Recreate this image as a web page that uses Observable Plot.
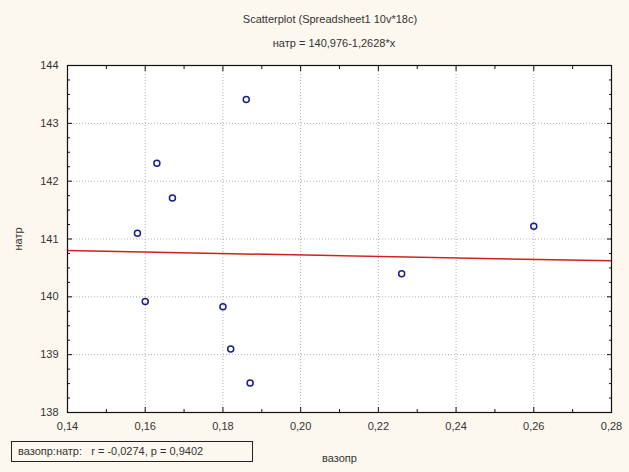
<!DOCTYPE html>
<html>
<head>
<meta charset="utf-8">
<script src="https://cdn.jsdelivr.net/npm/d3@7"></script>
<script src="https://cdn.jsdelivr.net/npm/@observablehq/plot@0.6"></script>
<style>
  html, body { margin: 0; padding: 0; background: #fdf8ef; }
  #wrap { position: relative; width: 629px; height: 472px; background: #fdf8ef; font-family: "Liberation Sans", Arial, sans-serif; color: #333; overflow: hidden; }
  .t { position: absolute; font-size: 11px; white-space: nowrap; }
  #title { left: 0; width: 660px; text-align: center; top: 13px; }
  #subtitle { left: 0; width: 668px; text-align: center; top: 37px; }
  #stats { left: 11px; top: 441px; width: 242px; height: 21px; border: 1px solid #222; box-sizing: border-box; line-height: 19px; padding-left: 6px; background: #fdf8ef; }
  #plot { position: absolute; left: 0; top: 0; }
</style>
</head>
<body>
<div id="wrap">
  <div id="plot"></div>
  <div class="t" id="title">Scatterplot (Spreadsheet1 10v*18c)</div>
  <div class="t" id="subtitle">натр = 140,976-1,2628*x</div>
  <div class="t" id="stats">вазопр:натр: &nbsp;&nbsp;r = -0,0274, p = 0,9402</div>
</div>
<script>
// Data
const vazopr = [0.158, 0.160, 0.163, 0.167, 0.186, 0.180, 0.182, 0.187, 0.226, 0.260];
const natr   = [141.10, 139.92, 142.31, 141.71, 143.41, 139.83, 139.10, 138.51, 140.40, 141.22];
// Regression: натр = 140,976 - 1,2628*x
const intercept = 140.976;
const slope = -1.2628;
const xTicks = [0.14, 0.16, 0.18, 0.20, 0.22, 0.24, 0.26, 0.28];
const xMinor = [0.15, 0.17, 0.19, 0.21, 0.23, 0.25, 0.27];
const yTicks = [138, 139, 140, 141, 142, 143, 144];
const yMinor = [138.25, 138.5, 138.75, 139.25, 139.5, 139.75, 140.25, 140.5, 140.75, 141.25, 141.5, 141.75, 142.25, 142.5, 142.75, 143.25, 143.5, 143.75];
const xDomain = [0.14, 0.28];
const yDomain = [138, 144];

const points = vazopr.map((x, i) => ({x, y: natr[i]}));
const fitLine = xDomain.map(x => ({x, y: intercept + slope * x}));
const fmtX = d => d.toFixed(2).replace(".", ",");
const blank = () => "";

const chart = Plot.plot({
  width: 629,
  height: 472,
  marginTop: 65,
  marginBottom: 60,
  marginLeft: 67,
  marginRight: 18,
  style: {background: "transparent", fontFamily: "'Liberation Sans', Arial, sans-serif", fontSize: "11px", color: "#333"},
  x: {domain: xDomain},
  y: {domain: yDomain},
  marks: [
    Plot.frame({fill: "white"}),
    Plot.gridX(xTicks, {stroke: "#b0b0b0", strokeOpacity: 1, strokeDasharray: "1,2"}),
    Plot.gridY(yTicks, {stroke: "#b0b0b0", strokeOpacity: 1, strokeDasharray: "1,2"}),
    Plot.axisX(xTicks, {tickSize: 0, tickPadding: 10, tickFormat: fmtX, label: "вазопр", labelAnchor: "center", labelArrow: "none", labelOffset: 49, fill: "#333"}),
    Plot.axisY(yTicks, {tickSize: 0, tickPadding: 9, tickFormat: d => String(d), label: "натр", labelAnchor: "center", labelArrow: "none", labelOffset: 53, fill: "#333"}),
    // inward tick marks on all four sides
    Plot.axisX(xTicks, {anchor: "bottom", tickSize: -5, tickFormat: blank, label: null, stroke: "#111"}),
    Plot.axisX(xTicks, {anchor: "top", tickSize: -5, tickFormat: blank, label: null, stroke: "#111"}),
    Plot.axisX(xMinor, {anchor: "bottom", tickSize: -3, tickFormat: blank, label: null, stroke: "#111"}),
    Plot.axisX(xMinor, {anchor: "top", tickSize: -3, tickFormat: blank, label: null, stroke: "#111"}),
    Plot.axisY(yTicks, {anchor: "left", tickSize: -5, tickFormat: blank, label: null, stroke: "#111"}),
    Plot.axisY(yTicks, {anchor: "right", tickSize: -5, tickFormat: blank, label: null, stroke: "#111"}),
    Plot.axisY(yMinor, {anchor: "left", tickSize: -3, tickFormat: blank, label: null, stroke: "#111"}),
    Plot.axisY(yMinor, {anchor: "right", tickSize: -3, tickFormat: blank, label: null, stroke: "#111"}),
    Plot.line(fitLine, {x: "x", y: "y", stroke: "#d21f1f", strokeWidth: 1.5}),
    Plot.dot(points, {x: "x", y: "y", r: 3, stroke: "#1c1c8c", strokeWidth: 1.5, fill: "none"}),
    Plot.frame({stroke: "#111", strokeWidth: 1.2})
  ]
});
document.getElementById("plot").appendChild(chart);
</script>
</body>
</html>
